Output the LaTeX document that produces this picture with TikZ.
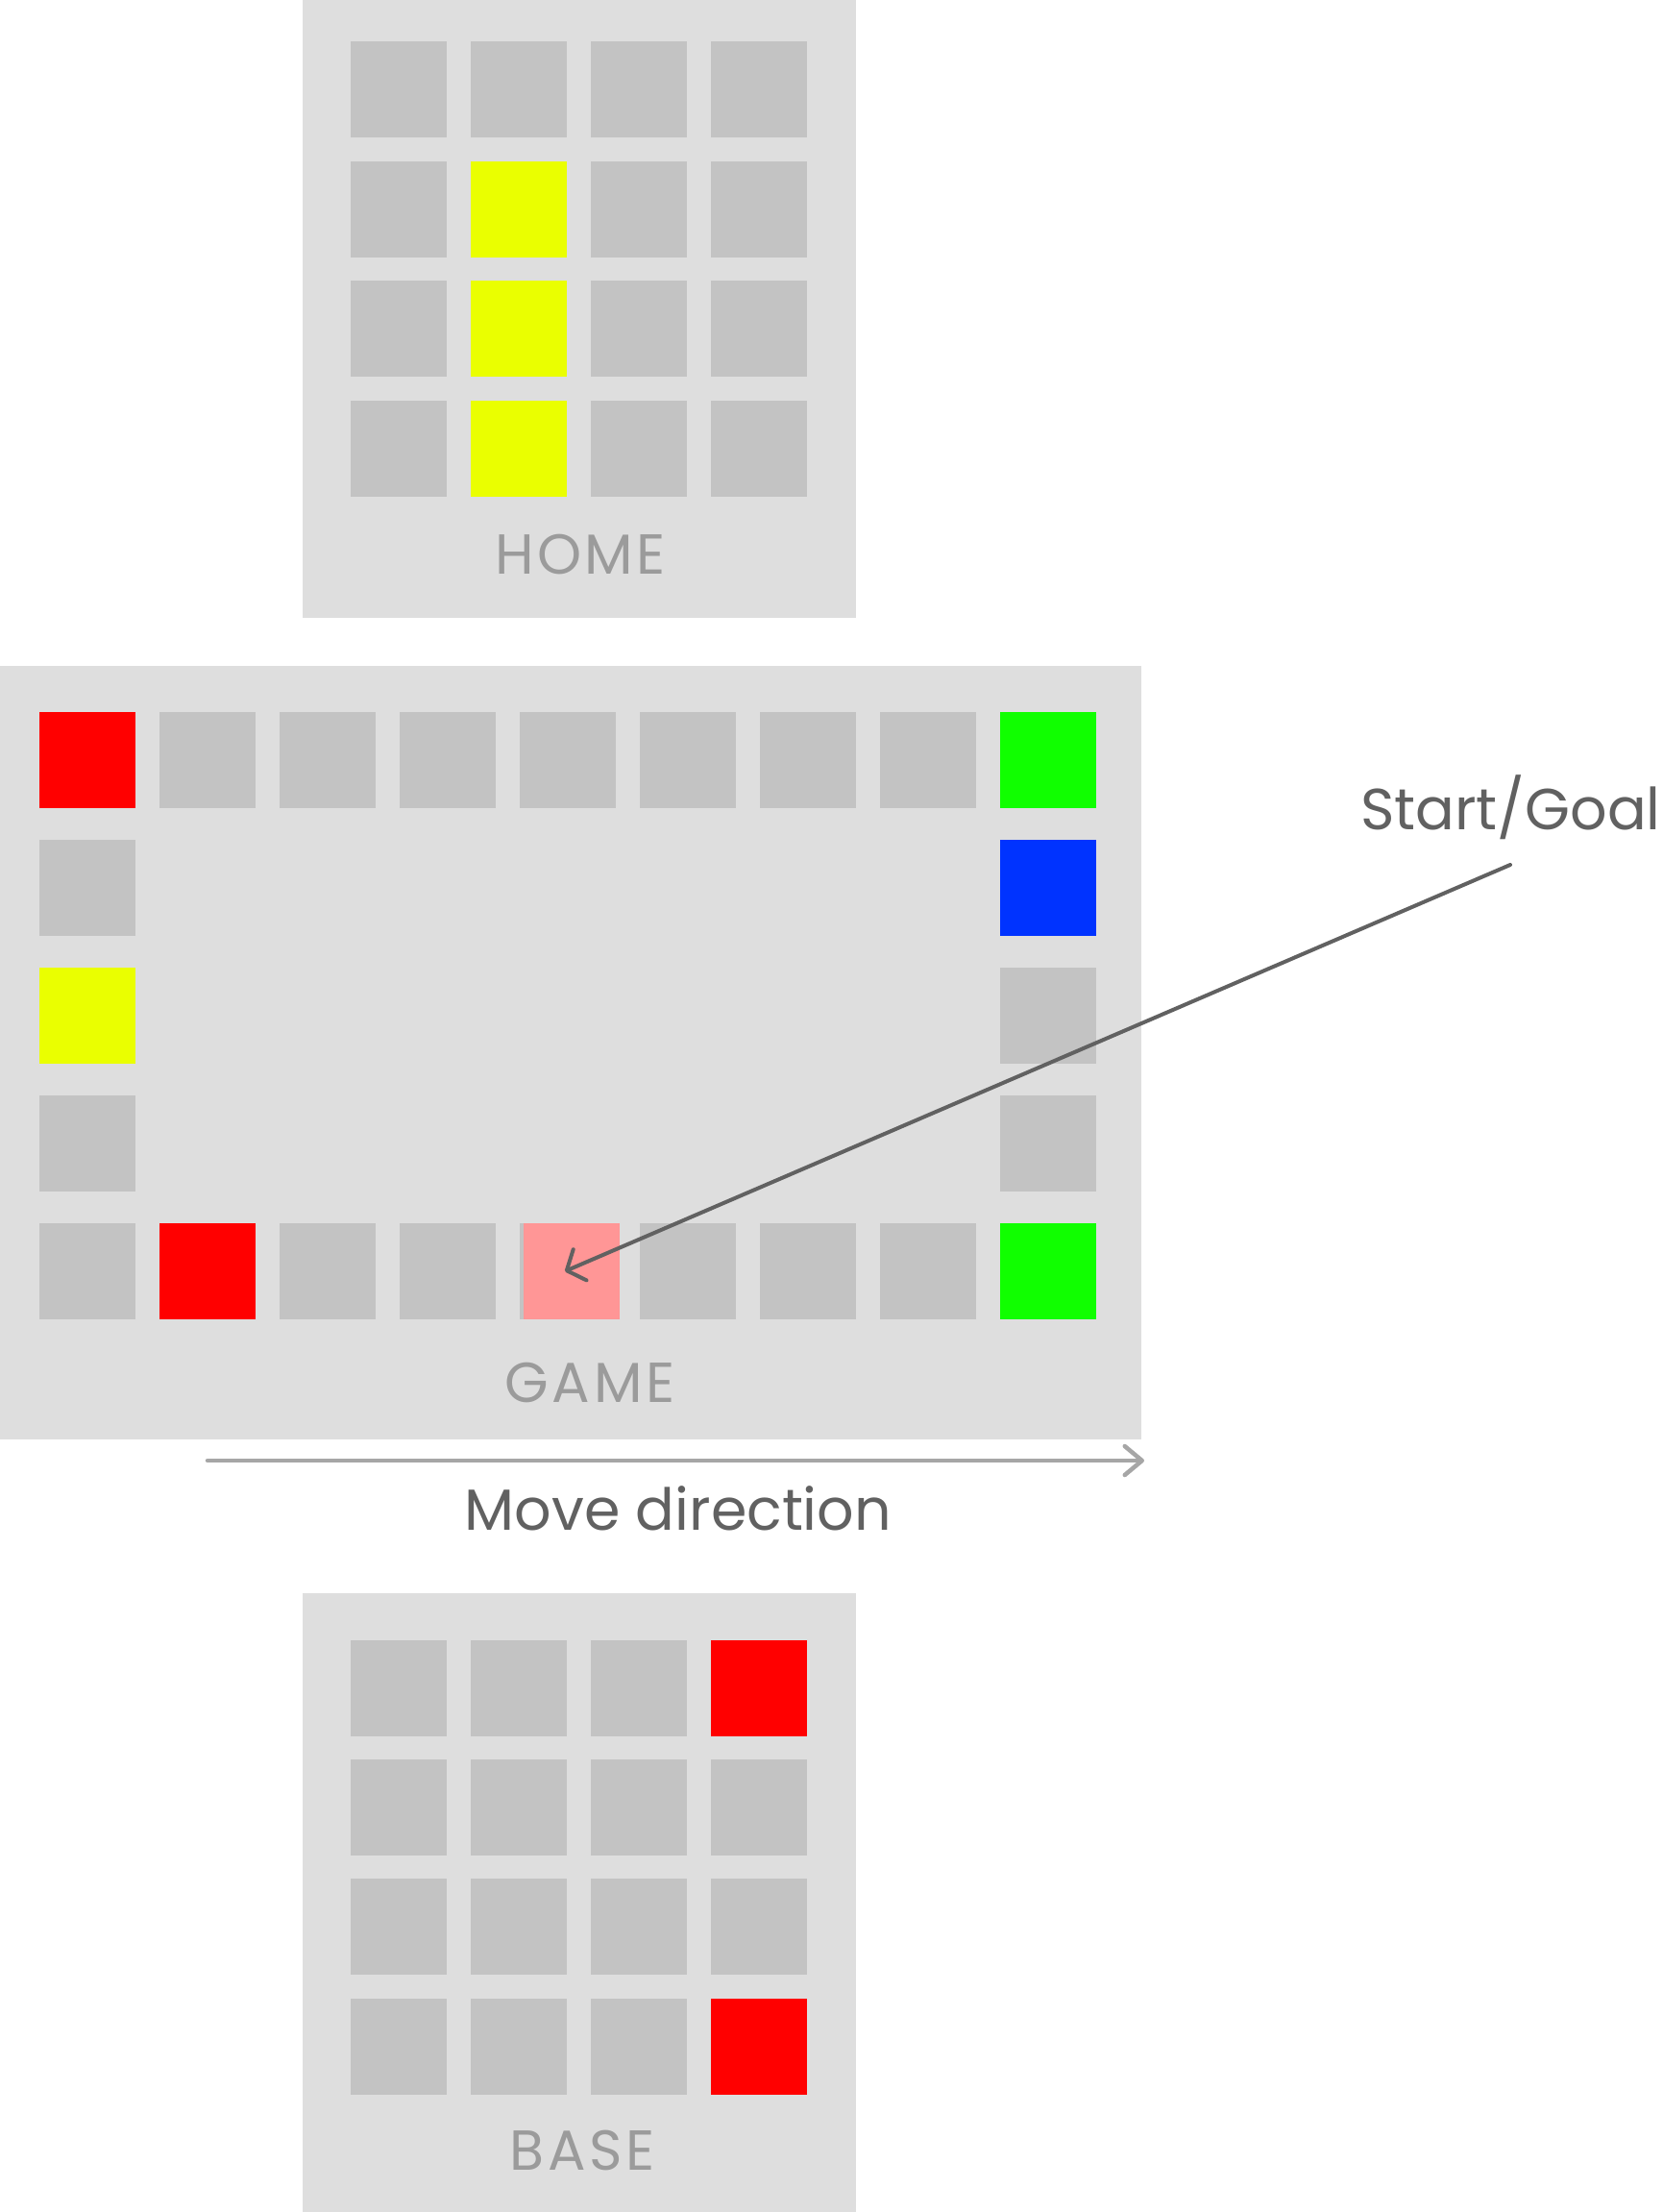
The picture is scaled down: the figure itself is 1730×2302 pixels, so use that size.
\documentclass[tikz,border=0pt]{standalone}
\usepackage{fontspec}
\setmainfont{Poppins}
\newfontfamily\labelfont{Poppins}[LetterSpace=6]
\usetikzlibrary{arrows.meta}
\definecolor{panelc}{HTML}{DEDEDE}
\definecolor{cellc}{HTML}{C3C3C3}
\definecolor{redc}{HTML}{FF0000}
\definecolor{greenc}{HTML}{10FF00}
\definecolor{bluec}{HTML}{0033FF}
\definecolor{yellowc}{HTML}{EAFF00}
\definecolor{pinkc}{HTML}{FF9696}
\definecolor{labelc}{HTML}{9B9B9B}
\definecolor{textc}{HTML}{616161}
\definecolor{movec}{HTML}{A6A6A6}
\tikzset{
  cell/.style={draw=none,fill=cellc,inner sep=0pt,outer sep=0pt,minimum width=30pt,minimum height=30pt},
  panel/.style={fill=panelc,draw=none},
  boardlabel/.style={text=labelc,anchor=base,inner sep=0pt,font=\labelfont\fontsize{17.6}{20}\selectfont},
  note/.style={text=textc,anchor=base,inner sep=0pt,font=\fontsize{18.1}{20}\selectfont},
}
\begin{document}
\begin{tikzpicture}[x=0.3pt,y=-0.3pt]
\useasboundingbox (0,0) rectangle (1730,2302);
% panels
\fill[panel] (315,0) rectangle (891,643);
\fill[panel] (0,693) rectangle (1188,1498);
\fill[panel] (315,1658) rectangle (891,2302);
% HOME
\foreach \c/\x in {0/415,1/540,2/665,3/790}{
  \foreach \r/\y in {0/93,1/217.5,2/342,3/467}{
    \node[cell] (h\r\c) at (\x,\y) {};
  }
}
\foreach \r/\y in {1/217.5,2/342,3/467}{
  \node[cell,fill=yellowc] (hy\r) at (540,\y) {};
}
\node[boardlabel] (homelbl) at (604,597) {HOME};
% GAME top and bottom rows
\foreach \i in {0,...,8}{
  \node[cell] (gt\i) at (91+125*\i,791) {};
  \node[cell] (gb\i) at (91+125*\i,1323) {};
}
\node[cell,fill=redc] (gt0r) at (91,791) {};
\node[cell,fill=greenc] (gt8g) at (1091,791) {};
\node[cell,fill=redc] (gb1r) at (216,1323) {};
\node[cell,fill=pinkc] (pink) at (595,1323) {};
\node[cell,fill=greenc] (gb8g) at (1091,1323) {};
% GAME side columns
\node[cell] (gl1) at (91,924) {};
\node[cell,fill=yellowc] (gl2) at (91,1057) {};
\node[cell] (gl3) at (91,1190) {};
\node[cell,fill=bluec] (gr1) at (1091,924) {};
\node[cell] (gr2) at (1091,1057) {};
\node[cell] (gr3) at (1091,1190) {};
\node[boardlabel] (gamelbl) at (614,1459) {GAME};
% BASE
\foreach \c/\x in {0/415,1/540,2/665,3/790}{
  \foreach \r/\y in {0/1757,1/1881,2/2005,3/2130}{
    \node[cell] (b\r\c) at (\x,\y) {};
  }
}
\node[cell,fill=redc] (b03r) at (790,1757) {};
\node[cell,fill=redc] (b33r) at (790,2130) {};
\node[boardlabel] (baselbl) at (606,2258.5) {BASE};
% move direction
\coordinate (mvs) at (216,1520);
\coordinate (mve) at (1191,1520);
\draw[movec,line width=1.35pt,line cap=round,line join=round,-{Straight Barb[length=5.4pt,width=9pt,line width=1.35pt,round]}] (mvs) -- (mve);
\node[note] (movelbl) at (706,1592) {Move direction};
% start/goal
\node[note] (sglbl) at (1572.5,863) {Start/Goal};
\coordinate (sgfoot) at (1572,900);
\coordinate (sgtip) at (588,1323);
\draw[textc,line width=1.2pt,line cap=round,line join=round,-{Straight Barb[length=4.5pt,width=10.5pt,line width=1.2pt,round]}] (sgfoot) -- (sgtip);
\end{tikzpicture}
\end{document}
